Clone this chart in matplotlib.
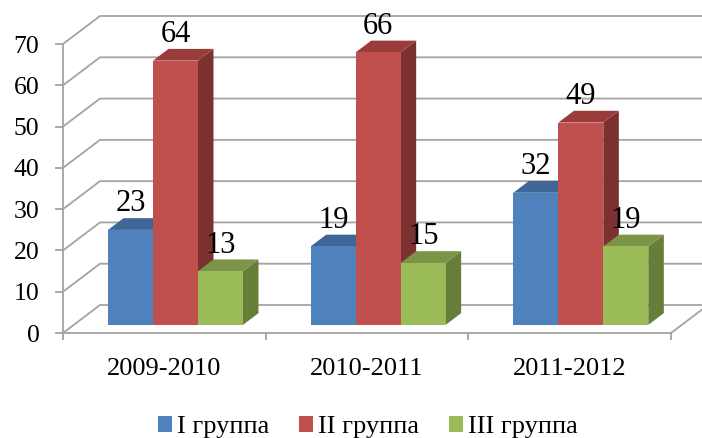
import matplotlib.pyplot as plt
from matplotlib.patches import Polygon, Patch

plt.rcParams['font.family'] = ['Liberation Serif', 'DejaVu Serif']

seasons = ['2009-2010', '2010-2011', '2011-2012']
groups = ['I группа', 'II группа', 'III группа']
group1 = [23, 19, 32]
group2 = [64, 66, 49]
group3 = [13, 15, 19]
series = [group1, group2, group3]
yticks = list(range(0, 80, 10))

fronts = ['#4F81BD', '#C0504D', '#9BBB59']
tops = ['#3E6797', '#9A3D3A', '#7A9546']
sides = ['#395D89', '#7A312F', '#677E3B']
grey = '#A3A3A3'

W, H = 702, 438
fig = plt.figure(figsize=(W / 100, H / 100), dpi=100)
ax = fig.add_axes([63 / W, (H - 333) / H, (671 - 63) / W, (333 - 44) / H])
ax.set_xlim(0, 3)
ax.set_ylim(0, 70)

# 3d look: depth offset of the back wall in data units
DX = 37 / 202.7
DY = 28 / 4.129
f0, f1 = 0.29, 0.71
bw = 0.222
start = 0.169


def proj(x, v, d):
    return (x + d * DX, v + d * DY)


# back wall + side wall gridlines
for v in yticks:
    pts = [proj(0, v, 0), proj(0, v, 1), proj(3, v, 1)]
    ax.plot([p[0] for p in pts], [p[1] for p in pts], color=grey, lw=1.3,
            clip_on=False, zorder=1)
# floor right edge
p = proj(3, 0, 1)
ax.plot([3, p[0]], [0, p[1]], color=grey, lw=1.3, clip_on=False, zorder=1)

# bars
for c in range(len(seasons)):
    for i, vals in enumerate(series):
        v = vals[c]
        xl = c + start + i * bw
        xr = xl + bw
        front = [proj(xl, 0, f0), proj(xr, 0, f0), proj(xr, v, f0), proj(xl, v, f0)]
        top = [proj(xl, v, f0), proj(xr, v, f0), proj(xr, v, f1), proj(xl, v, f1)]
        side = [proj(xr, 0, f0), proj(xr, 0, f1), proj(xr, v, f1), proj(xr, v, f0)]
        for poly, col in [(side, sides[i]), (top, tops[i]), (front, fronts[i])]:
            ax.add_patch(Polygon(poly, closed=True, facecolor=col, edgecolor='none',
                                 clip_on=False, zorder=3 + c * 3 + i))
        xc = proj((xl + xr) / 2, v, f0)[0]
        ax.annotate(str(v), xy=(xc, v + f1 * DY), xytext=(0, 5),
                    textcoords='offset points', ha='center', va='baseline',
                    fontsize=22, zorder=20, annotation_clip=False)

for s in ['top', 'right']:
    ax.spines[s].set_visible(False)
for s in ['left', 'bottom']:
    ax.spines[s].set_color(grey)
    ax.spines[s].set_linewidth(1.3)
    ax.spines[s].set_zorder(2)

ax.set_yticks(yticks)
ax.tick_params(axis='y', direction='out', length=6, width=1.3, color=grey,
               labelsize=18.5, pad=11)
ax.set_xticks([0.5, 1.5, 2.5])
ax.set_xticklabels(seasons)
ax.set_xticks([0, 1, 2, 3], minor=True)
ax.tick_params(axis='x', which='major', length=0, labelsize=19, pad=18)
ax.tick_params(axis='x', which='minor', direction='out', length=5, width=1.3, color=grey)

handles = [Patch(facecolor=fronts[i], edgecolor='none', label=groups[i]) for i in range(3)]
fig.legend(handles=handles, loc='center', bbox_to_anchor=(0.524, (H - 427) / H), ncol=3,
           frameon=False, fontsize=19, handlelength=0.55, handleheight=0.55,
           handletextpad=0.2, columnspacing=1.1)

fig.savefig('out.png', dpi=100)
